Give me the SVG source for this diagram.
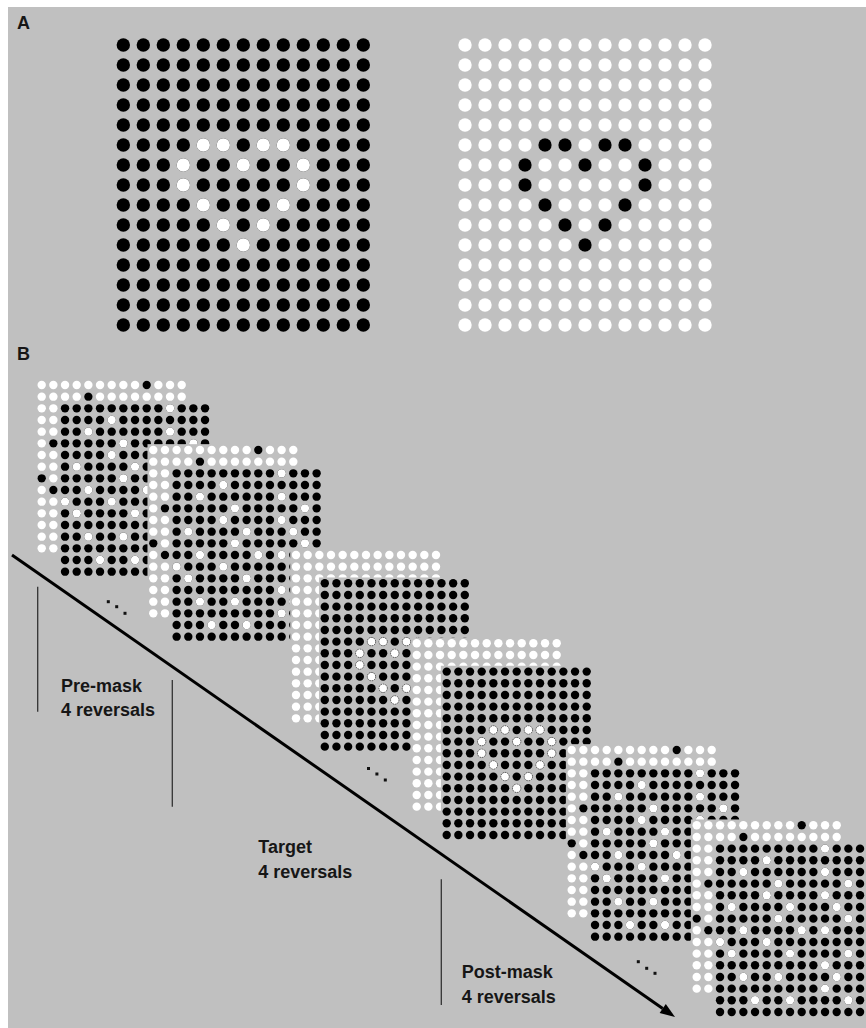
<svg xmlns="http://www.w3.org/2000/svg" xmlns:xlink="http://www.w3.org/1999/xlink" width="866" height="1028" viewBox="0 0 866 1028">
<style>
.bg{fill:#c0c0c0}
.lbl{font-family:"Liberation Sans",Arial,sans-serif;font-weight:bold;font-size:18px;fill:#161616}
.vl{stroke:#333;stroke-width:1.3}
.hs{fill:#fff;stroke:#444;stroke-width:0.8;stroke-dasharray:1.2 1.2}
</style>
<defs>
<g id="rowS"><circle cx="0" cy="0" r="4.2"/><circle cx="11.667" cy="0" r="4.2"/><circle cx="23.333" cy="0" r="4.2"/><circle cx="35" cy="0" r="4.2"/><circle cx="46.667" cy="0" r="4.2"/><circle cx="58.333" cy="0" r="4.2"/><circle cx="70" cy="0" r="4.2"/><circle cx="81.667" cy="0" r="4.2"/><circle cx="93.333" cy="0" r="4.2"/><circle cx="105" cy="0" r="4.2"/><circle cx="116.667" cy="0" r="4.2"/><circle cx="128.333" cy="0" r="4.2"/><circle cx="140" cy="0" r="4.2"/></g>
<g id="gridS"><rect class="bg" x="-5.833" y="-5.833" width="151.667" height="175"/><use xlink:href="#rowS" y="0"/><use xlink:href="#rowS" y="11.667"/><use xlink:href="#rowS" y="23.333"/><use xlink:href="#rowS" y="35"/><use xlink:href="#rowS" y="46.667"/><use xlink:href="#rowS" y="58.333"/><use xlink:href="#rowS" y="70"/><use xlink:href="#rowS" y="81.667"/><use xlink:href="#rowS" y="93.333"/><use xlink:href="#rowS" y="105"/><use xlink:href="#rowS" y="116.667"/><use xlink:href="#rowS" y="128.333"/><use xlink:href="#rowS" y="140"/><use xlink:href="#rowS" y="151.667"/><use xlink:href="#rowS" y="163.333"/></g>
<g id="noise"><circle cx="105" cy="0" r="4.2"/><circle cx="46.667" cy="11.667" r="4.2"/><circle cx="23.333" cy="23.333" r="4.2"/><circle cx="105" cy="23.333" r="4.2"/><circle cx="58.333" cy="35" r="4.2"/><circle cx="128.333" cy="35" r="4.2"/><circle cx="46.667" cy="46.667" r="4.2"/><circle cx="105" cy="46.667" r="4.2"/><circle cx="11.667" cy="58.333" r="4.2"/><circle cx="70" cy="58.333" r="4.2"/><circle cx="116.667" cy="58.333" r="4.2"/><circle cx="58.333" cy="70" r="4.2"/><circle cx="128.333" cy="70" r="4.2"/><circle cx="23.333" cy="81.667" r="4.2"/><circle cx="81.667" cy="81.667" r="4.2"/><circle cx="105" cy="81.667" r="4.2"/><circle cx="0" cy="93.333" r="4.2"/><circle cx="46.667" cy="93.333" r="4.2"/><circle cx="11.667" cy="105" r="4.2"/><circle cx="70" cy="105" r="4.2"/><circle cx="128.333" cy="105" r="4.2"/><circle cx="105" cy="116.667" r="4.2"/><circle cx="23.333" cy="128.333" r="4.2"/><circle cx="58.333" cy="128.333" r="4.2"/><circle cx="116.667" cy="128.333" r="4.2"/><circle cx="105" cy="140" r="4.2"/><circle cx="35" cy="151.667" r="4.2"/><circle cx="70" cy="151.667" r="4.2"/><circle cx="128.333" cy="151.667" r="4.2"/></g>
<g id="heartS"><circle cx="46.667" cy="58.333" r="4.2"/><circle cx="58.333" cy="58.333" r="4.2"/><circle cx="81.667" cy="58.333" r="4.2"/><circle cx="93.333" cy="58.333" r="4.2"/><circle cx="35" cy="70" r="4.2"/><circle cx="70" cy="70" r="4.2"/><circle cx="105" cy="70" r="4.2"/><circle cx="35" cy="81.667" r="4.2"/><circle cx="105" cy="81.667" r="4.2"/><circle cx="46.667" cy="93.333" r="4.2"/><circle cx="93.333" cy="93.333" r="4.2"/><circle cx="58.333" cy="105" r="4.2"/><circle cx="81.667" cy="105" r="4.2"/><circle cx="70" cy="116.667" r="4.2"/></g>
<g id="rowL"><circle cx="0" cy="0" r="6.7"/><circle cx="20" cy="0" r="6.7"/><circle cx="40" cy="0" r="6.7"/><circle cx="60" cy="0" r="6.7"/><circle cx="80" cy="0" r="6.7"/><circle cx="100" cy="0" r="6.7"/><circle cx="120" cy="0" r="6.7"/><circle cx="140" cy="0" r="6.7"/><circle cx="160" cy="0" r="6.7"/><circle cx="180" cy="0" r="6.7"/><circle cx="200" cy="0" r="6.7"/><circle cx="220" cy="0" r="6.7"/><circle cx="240" cy="0" r="6.7"/></g>
<g id="gridL"><use xlink:href="#rowL" y="0"/><use xlink:href="#rowL" y="20"/><use xlink:href="#rowL" y="40"/><use xlink:href="#rowL" y="60"/><use xlink:href="#rowL" y="80"/><use xlink:href="#rowL" y="100"/><use xlink:href="#rowL" y="120"/><use xlink:href="#rowL" y="140"/><use xlink:href="#rowL" y="160"/><use xlink:href="#rowL" y="180"/><use xlink:href="#rowL" y="200"/><use xlink:href="#rowL" y="220"/><use xlink:href="#rowL" y="240"/><use xlink:href="#rowL" y="260"/><use xlink:href="#rowL" y="280"/></g>
<g id="heartL"><circle cx="80" cy="100" r="6.7"/><circle cx="100" cy="100" r="6.7"/><circle cx="140" cy="100" r="6.7"/><circle cx="160" cy="100" r="6.7"/><circle cx="60" cy="120" r="6.7"/><circle cx="120" cy="120" r="6.7"/><circle cx="180" cy="120" r="6.7"/><circle cx="60" cy="140" r="6.7"/><circle cx="180" cy="140" r="6.7"/><circle cx="80" cy="160" r="6.7"/><circle cx="160" cy="160" r="6.7"/><circle cx="100" cy="180" r="6.7"/><circle cx="140" cy="180" r="6.7"/><circle cx="120" cy="200" r="6.7"/></g>
</defs>
<rect x="0" y="0" width="866" height="1028" fill="#fff"/>
<rect class="bg" x="8" y="7" width="858" height="1021"/>
<text class="lbl" x="17" y="29">A</text>
<text class="lbl" x="17" y="360">B</text>
<g id="stimA-left" transform="translate(123.3,45)"><use xlink:href="#gridL" fill="#000"/><use xlink:href="#heartL" fill="#fff"/></g>
<g id="stimA-right" transform="translate(465,45)"><use xlink:href="#gridL" fill="#fff"/><use xlink:href="#heartL" fill="#000"/></g>
<g id="connectors">
<line x1="12" y1="555" x2="662.7" y2="1008.4" stroke="#000" stroke-width="3"/>
<polygon points="675,1017 659.6,1012.9 665.8,1003.9" fill="#000"/>
<line class="vl" x1="37.7" y1="586.7" x2="37.7" y2="711.7"/>
<line class="vl" x1="172.3" y1="680" x2="172.3" y2="806.7"/>
<line class="vl" x1="441.3" y1="879.3" x2="441.3" y2="1005"/>
</g>
<g id="frame1" transform="translate(41.7,385)"><use xlink:href="#gridS" fill="#fff"/><use xlink:href="#noise" fill="#000"/><g transform="translate(23.333,23.333)"><use xlink:href="#gridS" fill="#000"/><use xlink:href="#noise" fill="#fff"/></g></g>
<g id="frame2" transform="translate(153.3,450)"><use xlink:href="#gridS" fill="#fff"/><use xlink:href="#noise" fill="#000"/><g transform="translate(23.333,23.333)"><use xlink:href="#gridS" fill="#000"/><use xlink:href="#noise" fill="#fff"/></g></g>
<g id="frame3" transform="translate(296,555)"><use xlink:href="#gridS" fill="#fff"/><g transform="translate(28.8,28.3)"><use xlink:href="#gridS" fill="#000"/><use xlink:href="#heartS" class="hs"/></g></g>
<g id="frame4" transform="translate(416.7,643.3)"><use xlink:href="#gridS" fill="#fff"/><g transform="translate(30,28.3)"><use xlink:href="#gridS" fill="#000"/><use xlink:href="#heartS" class="hs"/></g></g>
<g id="frame5" transform="translate(571.7,750)"><use xlink:href="#gridS" fill="#fff"/><use xlink:href="#noise" fill="#000"/><g transform="translate(23.333,23.333)"><use xlink:href="#gridS" fill="#000"/><use xlink:href="#noise" fill="#fff"/></g></g>
<g id="frame6" transform="translate(696.7,825.3)"><use xlink:href="#gridS" fill="#fff"/><use xlink:href="#noise" fill="#000"/><g transform="translate(23.333,23.333)"><use xlink:href="#gridS" fill="#000"/><use xlink:href="#noise" fill="#fff"/></g></g>
<g id="ellipses" fill="#111">
<rect x="106.8" y="600.2" width="3" height="3"/><rect x="115.2" y="605.2" width="3" height="3"/><rect x="123.5" y="611.8" width="3" height="3"/>
<rect x="367" y="767" width="3" height="3"/><rect x="375.4" y="772.5" width="3" height="3"/><rect x="383.8" y="778.5" width="3" height="3"/>
<rect x="636.8" y="960.2" width="3" height="3"/><rect x="645.2" y="966.8" width="3" height="3"/><rect x="653.5" y="971.8" width="3" height="3"/>
</g>
<g id="labels">
<text class="lbl" x="61" y="692">Pre-mask</text>
<text class="lbl" x="61" y="716">4 reversals</text>
<text class="lbl" x="258.3" y="853.3">Target</text>
<text class="lbl" x="258.3" y="878.3">4 reversals</text>
<text class="lbl" x="461.7" y="978.3">Post-mask</text>
<text class="lbl" x="461.7" y="1002.7">4 reversals</text>
</g>
</svg>
